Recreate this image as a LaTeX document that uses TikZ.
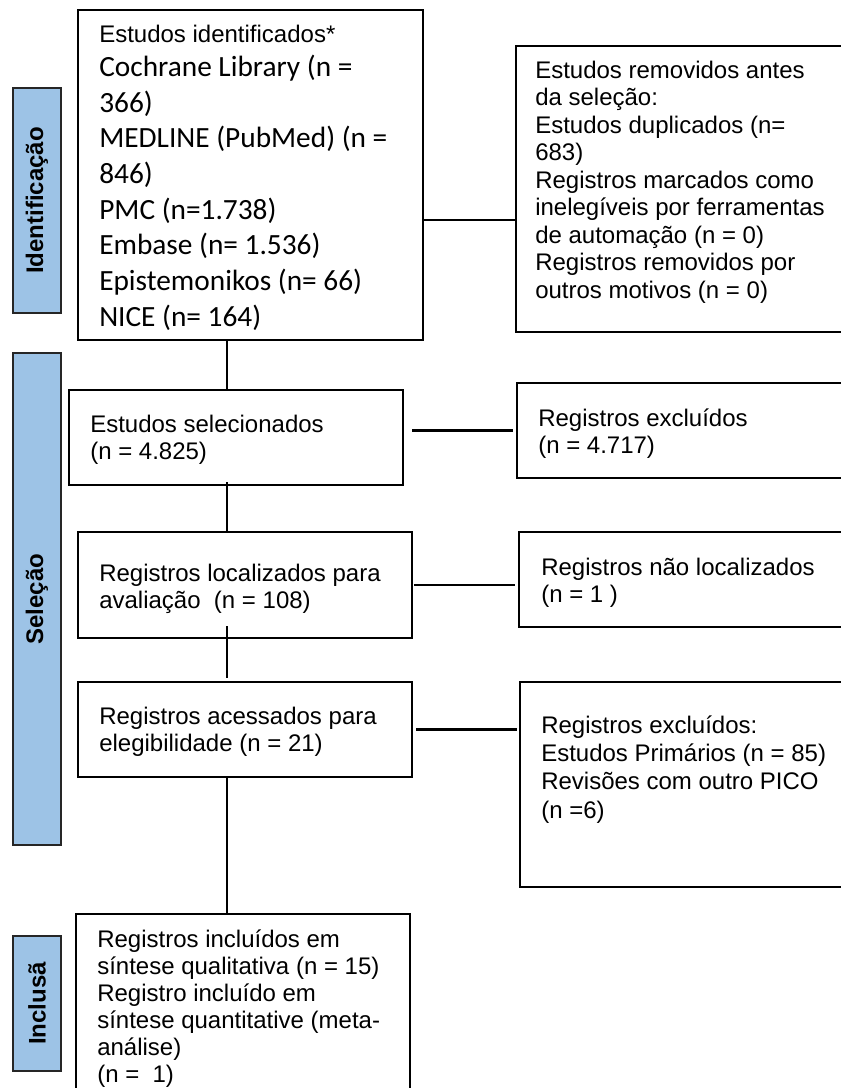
\documentclass[tikz,border=0pt]{standalone}
\usepackage{fontspec}
\setmainfont{Liberation Sans}
\newfontfamily\carl{Carlito}
\definecolor{sideblue}{RGB}{157,195,230}
\newcommand{\fla}{\rule{0pt}{15pt}}
\newcommand{\flc}{\rule{0pt}{18pt}}
\begin{document}
\begin{tikzpicture}[x=0.75pt,y=-0.75pt,
 box/.style={draw=black,line width=1.8pt,fill=white,anchor=north west,inner sep=0pt,outer sep=0pt},
 side/.style={draw=black!85,line width=1.8pt,fill=sideblue,anchor=north west,inner sep=0pt,outer sep=0pt,minimum width=36pt},
 sidelbl/.style={rotate=90,font=\fontsize{18}{20}\selectfont\bfseries,inner sep=0pt},
 txt/.style={anchor=north west,inner sep=0pt,align=left,font=\fontsize{18}{20.6}\selectfont},
 conn/.style={line width=2.1pt}]
\useasboundingbox (0,0) rectangle (841,1088);
\clip (0,0) rectangle (841,1088);
% side labels
\node[side,minimum height=168.75pt] (s1) at (13,88) {};
\node[side,minimum height=369pt] (s2) at (13,353) {};
\node[side,minimum height=101.25pt] (s3) at (13,936) {};
\node[sidelbl] (l1) at (s1.center) {Identificação};
\node[sidelbl] (l2) at (s2.center) {Seleção};
\node[sidelbl] (l3) at (s3.center) {Inclusã};
% boxes
\node[box,minimum width=258.75pt,minimum height=247.5pt] (b1) at (78,10) {};
\node[box,minimum width=258pt,minimum height=214.5pt] (rm) at (516,46) {};
\node[box,minimum width=250.5pt,minimum height=71.25pt] (b2) at (69,390) {};
\node[box,minimum width=257.25pt,minimum height=71.25pt] (e1) at (517,383) {};
\node[box,minimum width=250.5pt,minimum height=79.5pt] (b3) at (78,532) {};
\node[box,minimum width=255.75pt,minimum height=71.25pt] (e2) at (519,532) {};
\node[box,minimum width=250.5pt,minimum height=71.25pt] (b4) at (78,682) {};
\node[box,minimum width=255pt,minimum height=153.75pt] (e3) at (520,682) {};
\node[box,minimum width=250.5pt,minimum height=139.5pt] (b5) at (76,914) {};
% texts
\node[txt] (t1a) at (99,22) {\fla Estudos identificados*};
\node[txt,font=\carl\fontsize{22}{26.8}\selectfont] (t1b) at (99,52) {\flc Cochrane Library (n =\\366)\\MEDLINE (PubMed) (n =\\846)\\PMC (n=1.738)\\Embase (n= 1.536)\\Epistemonikos (n= 66)\\NICE (n= 164)};
\node[txt] (trm) at (535,58) {\fla Estudos removidos antes\\da seleção:\\Estudos duplicados (n=\\683)\\Registros marcados como\\inelegíveis por ferramentas\\de automação (n = 0)\\Registros removidos por\\outros motivos (n = 0)};
\node[txt] (t2) at (90,412) {\fla Estudos selecionados\\(n = 4.825)};
\node[txt] (te1) at (538,406) {\fla Registros excluídos\\(n = 4.717)};
\node[txt] (t3) at (99,561) {\fla Registros localizados para\\avaliação\ \ (n = 108)};
\node[txt] (te2) at (541,555) {\fla Registros não localizados\\(n = 1 )};
\node[txt] (t4) at (99,704) {\fla Registros acessados para\\elegibilidade (n = 21)};
\node[txt,font=\fontsize{18}{21.2}\selectfont] (te3) at (541,713) {\fla Registros excluídos:\\Estudos Primários (n = 85)\\Revisões com outro PICO\\(n =6)};
\node[txt,font=\fontsize{18}{20.25}\selectfont] (t5) at (97,927) {\fla Registros incluídos em\\síntese qualitativa (n = 15)\\Registro incluído em\\síntese quantitative (meta-\\análise)\\(n =\ \ 1)};
% connectors
\coordinate (spine) at (227,0);
\coordinate (c1) at ([yshift=-23.25pt]rm.west);
\draw[conn] (b1.south -| spine) -- (b2.north -| spine);
\draw[conn,shorten <=-2.25pt] (b2.south -| spine) -- (b3.north -| spine);
\draw[conn,shorten <=-9pt,shorten >=3pt] (b3.south -| spine) -- (b4.north -| spine);
\draw[conn] (b4.south -| spine) -- (b5.north -| spine);
\draw[conn] (c1 -| b1.east) -- (c1);
\draw[conn,shorten <=6.75pt,shorten >=3pt] (b2.east |- e1.west) -- (e1.west);
\draw[conn,shorten <=1.5pt,shorten >=3pt] (b3.east) -- (b3.east -| e2.west);
\draw[conn,shorten <=3pt,shorten >=2.25pt] (b4.east) -- (b4.east -| e3.west);
\end{tikzpicture}
\end{document}
